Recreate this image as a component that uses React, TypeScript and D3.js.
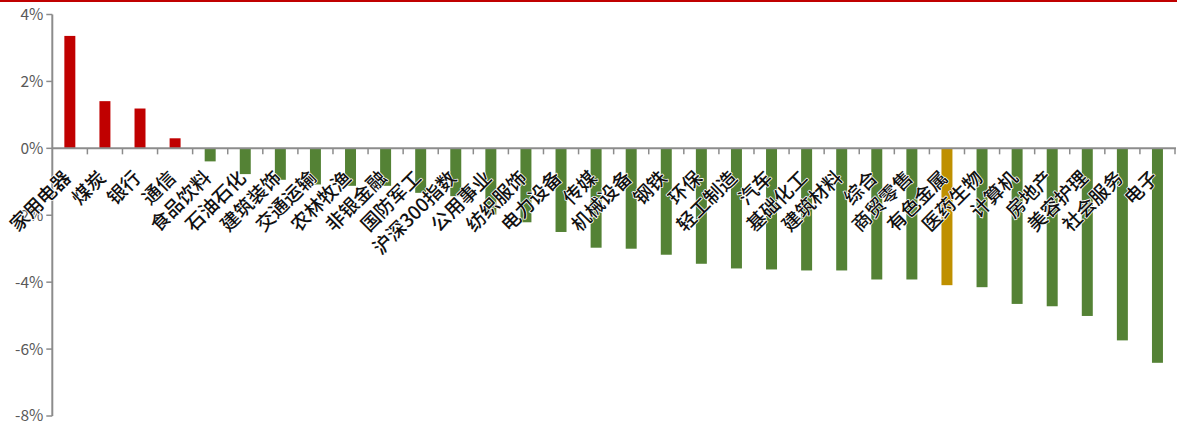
import React from "react";
import * as d3 from "d3";

const categories = [
  "家用电器", "煤炭", "银行", "通信", "食品饮料", "石油石化", "建筑装饰", "交通运输",
  "农林牧渔", "非银金融", "国防军工", "沪深300指数", "公用事业", "纺织服饰", "电力设备", "传媒",
  "机械设备", "钢铁", "环保", "轻工制造", "汽车", "基础化工", "建筑材料", "综合",
  "商贸零售", "有色金属", "医药生物", "计算机", "房地产", "美容护理", "社会服务", "电子",
];

// weekly change, %
const changes = [
  3.36, 1.41, 1.19, 0.3, -0.39, -0.77, -0.94, -1.08,
  -1.12, -1.12, -1.33, -1.43, -1.98, -2.21, -2.5, -2.97,
  -3.0, -3.18, -3.45, -3.59, -3.62, -3.65, -3.65, -3.92,
  -3.92, -4.09, -4.15, -4.65, -4.72, -5.01, -5.74, -6.41,
];

const highlight = "有色金属";
const yTicks = [-8, -6, -4, -2, 0, 2, 4];

const W = 1177;
const H = 426;
const FONT = "'Noto Sans CJK SC', 'Noto Sans', sans-serif";
const AXIS = "#8c8c8c";

export default function App() {
  const x = d3
    .scaleBand<string>()
    .domain(categories)
    .range([52.3, 1175])
    .paddingInner(0.687)
    .paddingOuter(0.3435);
  const y = d3.scaleLinear().domain([-8, 4]).range([416, 14.5]);
  const step = x.step();
  const x0 = 52.3;

  const color = (name: string, v: number) =>
    name === highlight ? "#bf9000" : v >= 0 ? "#c00000" : "#548235";

  return (
    <svg
      width={W}
      height={H}
      style={{ position: "absolute", left: 0, top: 0, background: "#fff" }}
      fontFamily={FONT}
    >
      <rect x={0} y={0} width={W} height={2} fill="#c00000" />

      {/* bars */}
      {categories.map((c, i) => {
        const v = changes[i];
        const y1 = y(Math.max(0, v));
        const y2 = y(Math.min(0, v));
        return (
          <rect
            key={c}
            x={x(c)}
            y={y1}
            width={x.bandwidth()}
            height={y2 - y1}
            fill={color(c, v)}
          />
        );
      })}

      {/* y axis */}
      <line x1={x0} x2={x0} y1={y(4)} y2={y(-8)} stroke={AXIS} strokeWidth={2} />
      {yTicks.map((t) => (
        <g key={t}>
          <line x1={x0 - 6} x2={x0} y1={y(t)} y2={y(t)} stroke={AXIS} strokeWidth={1.5} />
          <text
            x={x0 - 9}
            y={y(t)}
            dy="0.35em"
            textAnchor="end"
            fontSize={15.5}
            fill="#595959"
          >
            {`${t}%`}
          </text>
        </g>
      ))}

      {/* x axis */}
      <line x1={x0} x2={1176} y1={y(0)} y2={y(0)} stroke={AXIS} strokeWidth={2} />
      {categories.map((c, i) => (
        <line
          key={c}
          x1={x0 + step * (i + 1)}
          x2={x0 + step * (i + 1)}
          y1={y(0)}
          y2={y(0) + 6}
          stroke={AXIS}
          strokeWidth={1.5}
        />
      ))}

      {/* category labels */}
      {categories.map((c) => {
        const cx = (x(c) as number) + x.bandwidth() / 2;
        return (
          <text
            key={c}
            transform={`translate(${cx + 2},${179}) rotate(-45)`}
            textAnchor="end"
            fontSize={19}
            fontWeight={500}
            fill="#111"
            stroke="#fff"
            strokeWidth={1.5}
            paintOrder="stroke"
            strokeLinejoin="round"
          >
            {c}
          </text>
        );
      })}
    </svg>
  );
}
